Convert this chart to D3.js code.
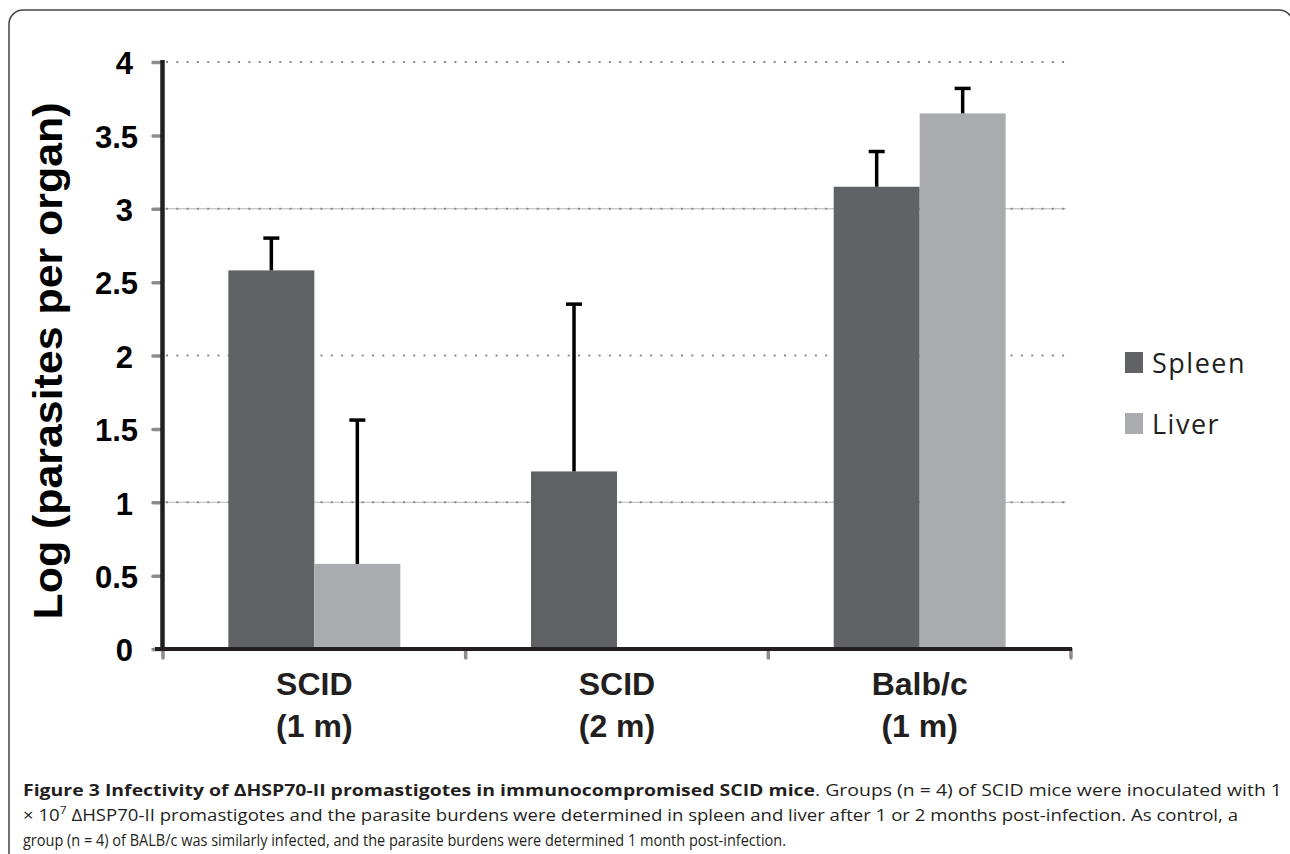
<!DOCTYPE html>
<html>
<head>
<meta charset="utf-8">
<script src="https://cdn.jsdelivr.net/npm/d3@7"></script>
<style>
  body { margin: 0; background: #fff; }
  svg { display: block; }
</style>
</head>
<body>
<div id="chart"></div>
<script>
// chart values
var groups = ["SCID|(1 m)", "SCID|(2 m)", "Balb/c|(1 m)"];
var series = ["Spleen", "Liver"];
var spleen = [2.58, 1.21, 3.15];
var liver = [0.58, 0, 3.65];
var spleenErr = [0.22, 1.14, 0.24];
var liverErr = [0.98, 0, 0.17];
var yTicks = [0, 0.5, 1, 1.5, 2, 2.5, 3, 3.5, 4];
var gridValues = [1, 2, 3, 4];
var colors = ["#616266", "#a9abae"];

var width = 1290, height = 854;
var ink = "#231f20";

var svg = d3.select("#chart")
    .append("svg")
    .attr("width", width)
    .attr("height", height);

// frame round the figure
svg.append("rect")
    .attr("x", 9).attr("y", 10)
    .attr("width", 1284).attr("height", 900)
    .attr("rx", 14).attr("ry", 14)
    .attr("fill", "none")
    .attr("stroke", "#444")
    .attr("stroke-width", 1.5);

var x0 = d3.scaleBand()
    .domain(groups)
    .range([163, 1071])
    .paddingInner(0)
    .paddingOuter(0);

var x1 = d3.scaleBand()
    .domain(series)
    .range([0, x0.bandwidth()])
    .paddingInner(0)
    .paddingOuter(0.76);

var y = d3.scaleLinear()
    .domain([0, 4])
    .range([649, 62]);

var rows = groups.map(function(g, i) {
    return {
        group: g,
        values: [
            { s: "Spleen", v: spleen[i], e: spleenErr[i] },
            { s: "Liver", v: liver[i], e: liverErr[i] }
        ]
    };
});

// gridlines: the 1 and 3 lines also carry a faint solid line
var grid = svg.append("g");
grid.selectAll(".solid")
    .data(gridValues.filter(function(d) { return d % 2 === 1; }))
    .enter()
    .append("line")
    .attr("x1", 163).attr("x2", 1066)
    .attr("y1", function(d) { return y(d); })
    .attr("y2", function(d) { return y(d); })
    .attr("stroke", "#b5b5b5")
    .attr("stroke-width", 1);
grid.selectAll(".dots")
    .data(gridValues)
    .enter()
    .append("line")
    .attr("x1", 166).attr("x2", 1071)
    .attr("y1", function(d) { return y(d); })
    .attr("y2", function(d) { return y(d); })
    .attr("stroke", "#8a8a8a")
    .attr("stroke-width", 2)
    .attr("stroke-dasharray", "2,8.3");

// bars
var bars = svg.selectAll(".grp")
    .data(rows)
    .enter()
    .append("g")
    .attr("transform", function(d) { return "translate(" + x0(d.group) + ",0)"; });

bars.selectAll("rect")
    .data(function(d) { return d.values; })
    .enter()
    .append("rect")
    .attr("x", function(d) { return x1(d.s); })
    .attr("width", x1.bandwidth())
    .attr("y", function(d) { return y(d.v); })
    .attr("height", function(d) { return y(0) - y(d.v); })
    .attr("fill", function(d, i) { return colors[i]; });

// error bars (upper only)
var err = bars.selectAll(".err")
    .data(function(d) { return d.values; })
    .enter()
    .append("g");

err.append("line")
    .attr("x1", function(d) { return x1(d.s) + x1.bandwidth() / 2; })
    .attr("x2", function(d) { return x1(d.s) + x1.bandwidth() / 2; })
    .attr("y1", function(d) { return y(d.v); })
    .attr("y2", function(d) { return y(d.v + d.e); })
    .attr("stroke", "#000")
    .attr("stroke-width", 3.5);

err.append("line")
    .attr("x1", function(d) { return x1(d.s) + x1.bandwidth() / 2 - 8; })
    .attr("x2", function(d) { return x1(d.s) + x1.bandwidth() / 2 + 8; })
    .attr("y1", function(d) { return y(d.v + d.e); })
    .attr("y2", function(d) { return y(d.v + d.e); })
    .attr("stroke", "#000")
    .attr("stroke-width", 3.5);

// y axis ticks and labels
var yAxis = svg.append("g")
    .attr("transform", "translate(162,0)")
    .call(d3.axisLeft(y).tickValues(yTicks).tickSize(9).tickSizeOuter(0)
        .tickPadding(14).tickFormat(function(d) { return String(d); }));

yAxis.select(".domain").remove();
yAxis.selectAll(".tick line")
    .attr("stroke", "#8c8c8f")
    .attr("stroke-width", 3.5)
    .attr("stroke-linecap", "round");
yAxis.selectAll(".tick text")
    .attr("x", function(d) { return Number.isInteger(d) ? -29 : -24; })
    .attr("dy", "0.38em")
    .attr("fill", "#000")
    .style("font-family", "'Liberation Sans', Arial, sans-serif")
    .style("font-weight", "bold")
    .style("font-size", "31px");

svg.append("line")
    .attr("x1", 162.5).attr("x2", 162.5)
    .attr("y1", y(4) - 2).attr("y2", y(0))
    .attr("stroke", ink)
    .attr("stroke-width", 4.5);

// x axis
var xBounds = groups.map(function(g) { return x0(g); }).concat([x0.range()[1]]);
svg.selectAll(".xtick")
    .data(xBounds)
    .enter()
    .append("line")
    .attr("x1", function(d) { return d; })
    .attr("x2", function(d) { return d; })
    .attr("y1", y(0))
    .attr("y2", y(0) + 9)
    .attr("stroke", "#8c8c8f")
    .attr("stroke-width", 3.5)
    .attr("stroke-linecap", "round");

svg.append("line")
    .attr("x1", 155).attr("x2", 1072)
    .attr("y1", y(0)).attr("y2", y(0))
    .attr("stroke", ink)
    .attr("stroke-width", 4);

var xl = svg.selectAll(".xlab")
    .data(groups)
    .enter()
    .append("text")
    .attr("text-anchor", "middle")
    .attr("fill", ink)
    .style("font-family", "'Liberation Sans', Arial, sans-serif")
    .style("font-weight", "bold")
    .style("font-size", "32px");

xl.append("tspan")
    .attr("x", function(d) { return x0(d) + x0.bandwidth() / 2; })
    .attr("y", 695)
    .text(function(d) { return d.split("|")[0]; });
xl.append("tspan")
    .attr("x", function(d) { return x0(d) + x0.bandwidth() / 2; })
    .attr("y", 737)
    .text(function(d) { return d.split("|")[1]; });

// y axis title
svg.append("text")
    .attr("transform", "translate(62,361) rotate(-90)")
    .attr("text-anchor", "middle")
    .attr("fill", "#000")
    .attr("textLength", 517)
    .attr("lengthAdjust", "spacingAndGlyphs")
    .style("font-family", "'Liberation Sans', Arial, sans-serif")
    .style("font-weight", "bold")
    .style("font-size", "41px")
    .text("Log (parasites per organ)");

// legend
var legend = svg.selectAll(".leg")
    .data(series)
    .enter()
    .append("g")
    .attr("transform", function(d, i) { return "translate(1125," + (352 + i * 61) + ")"; });

legend.append("rect")
    .attr("width", 18)
    .attr("height", 21)
    .attr("fill", function(d, i) { return colors[i]; });

legend.append("text")
    .attr("x", 27)
    .attr("y", 21)
    .attr("fill", ink)
    .style("font-family", "'Open Sans', sans-serif")
    .style("font-size", "27px")
    .style("letter-spacing", "1.5px")
    .text(function(d) { return d; });

// caption, fitted to the widths of the original lines
var capStyle = function(t) {
    return t.attr("fill", ink)
        .attr("lengthAdjust", "spacingAndGlyphs")
        .style("font-family", "'Open Sans', sans-serif")
        .style("font-size", "15.5px");
};

var c1 = capStyle(svg.append("text").attr("x", 23).attr("y", 796)
    .attr("textLength", 1259));
c1.append("tspan").style("font-weight", "bold")
    .text("Figure 3 Infectivity of \u0394HSP70-II promastigotes in immunocompromised SCID mice");
c1.append("tspan")
    .text(". Groups (n = 4) of SCID mice were inoculated with 1");

var c2 = capStyle(svg.append("text").attr("x", 23).attr("y", 821)
    .attr("textLength", 1215));
c2.append("tspan").text("\u00d7 10");
c2.append("tspan").attr("dy", -7).style("font-size", "10px").text("7");
c2.append("tspan").attr("dy", 7)
    .text(" \u0394HSP70-II promastigotes and the parasite burdens were determined in spleen and liver after 1 or 2 months post-infection. As control, a");

capStyle(svg.append("text").attr("x", 23).attr("y", 846)
    .attr("textLength", 763))
    .text("group (n = 4) of BALB/c was similarly infected, and the parasite burdens were determined 1 month post-infection.");
</script>
</body>
</html>
